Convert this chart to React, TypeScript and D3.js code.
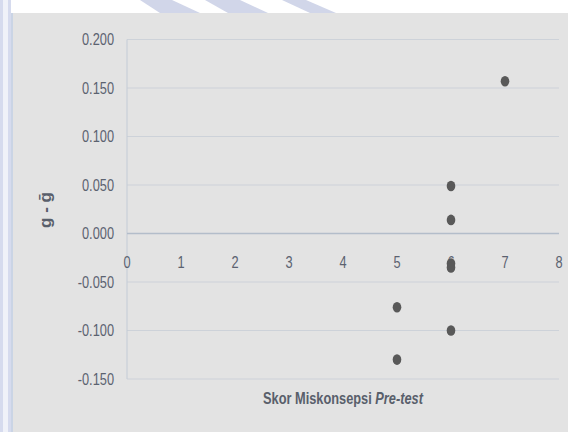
import React, { useEffect } from 'react';
import * as d3 from 'd3';

// data
const skorPretest = [7, 6, 6, 6, 6, 5, 6, 5];
const selisihGain = [0.157, 0.049, 0.014, -0.031, -0.035, -0.076, -0.1, -0.13];
const xTicks = [0, 1, 2, 3, 4, 5, 6, 7, 8];
const yTicks = [0.2, 0.15, 0.1, 0.05, 0, -0.05, -0.1, -0.15];

const W = 568;
const H = 432;
const FONT = '"Liberation Sans", Arial, sans-serif';
const TEXT = '#5b6270';
const SQUEEZE = 0.8; // the original text is a narrow face

// text drawn at (x, y) and squeezed horizontally
function Narrow({ x, y, anchor, size, weight, fill, squeeze = SQUEEZE, children }: any) {
  return (
    <g transform={`translate(${x},${y}) scale(${squeeze},1)`}>
      <text dy="0.35em" textAnchor={anchor} fontSize={size} fontWeight={weight} fill={fill}>
        {children}
      </text>
    </g>
  );
}

export default function App() {
  useEffect(() => {
    document.body.style.margin = '0';
  }, []);

  const x = d3.scaleLinear().domain([0, 8]).range([127, 559]);
  const y = d3.scaleLinear().domain([-0.15, 0.2]).range([379, 39.5]);
  const fmt = (v: number) => d3.format('.3f')(v).replace('−', '-');
  const points = skorPretest.map((s, i) => ({ s, g: selisihGain[i] }));

  return (
    <svg width={W} height={H} style={{ display: 'block', fontFamily: FONT }}>
      <rect x={0} y={0} width={W} height={H} fill="#ffffff" />
      {/* faint watermark shapes outside the chart panel */}
      <g fill="#c9cfe6" opacity={0.85}>
        <polygon points="140,0 172,0 200,13 160,13" />
        <polygon points="205,0 240,0 268,13 228,13" />
        <polygon points="282,0 306,0 336,13 310,13" />
      </g>
      <rect x={0} y={0} width={11} height={H} fill="#d6dbee" />
      <rect x={3} y={0} width={5} height={H} fill="#f0f2f9" />
      <line x1={12} x2={12} y1={13} y2={H} stroke="#b9c6dc" strokeWidth={1.5} />
      <rect x={13} y={13} width={W - 13} height={H - 13} fill="#e3e3e3" />

      {/* gridlines */}
      {yTicks.filter(t => t !== 0).map(t => (
        <line key={t} x1={x(0)} x2={x(8)} y1={y(t)} y2={y(t)} stroke="#cdd2d9" strokeWidth={1.2} />
      ))}
      <line x1={x(0)} x2={x(0)} y1={y(0.2)} y2={y(-0.15)} stroke="#c3cbd6" strokeWidth={1} />
      <line x1={x(0)} x2={x(8)} y1={y(0)} y2={y(0)} stroke="#b3bdca" strokeWidth={1.3} />

      {/* y tick labels */}
      {yTicks.map(t => (
        <Narrow key={t} x={114} y={y(t)} anchor="end" size={16} fill={TEXT}>
          {fmt(t)}
        </Narrow>
      ))}
      {/* x tick labels */}
      {xTicks.map(t => (
        <Narrow key={t} x={x(t)} y={y(0) + 29} anchor="middle" size={16} fill={TEXT}>
          {t}
        </Narrow>
      ))}

      {/* points */}
      {points.map((p, i) => (
        <ellipse key={i} cx={x(p.s)} cy={y(p.g)} rx={4.3} ry={5.3} fill="#595959" />
      ))}

      {/* axis titles */}
      <Narrow x={343} y={398} anchor="middle" size={16} weight="bold" fill="#595f6b">
        Skor Miskonsepsi <tspan fontStyle="italic">Pre-test</tspan>
      </Narrow>
      <g transform="translate(45,210) rotate(-90)">
        <Narrow x={0} y={0} anchor="middle" size={17} weight="bold" fill="#595f6b" squeeze={1}>
          g - ḡ
        </Narrow>
      </g>
    </svg>
  );
}
